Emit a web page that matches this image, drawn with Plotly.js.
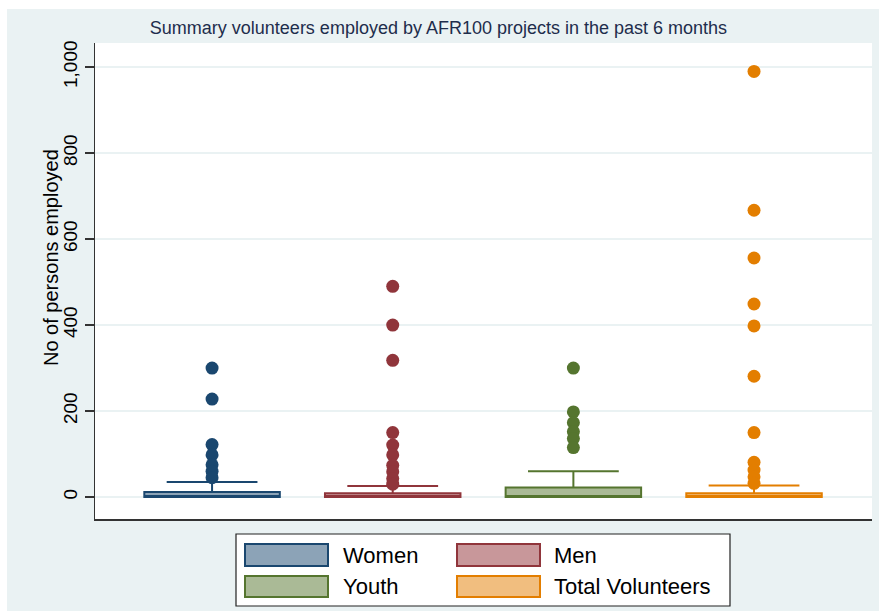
<!DOCTYPE html>
<html>
<head>
<meta charset="utf-8">
<script src="https://cdn.plot.ly/plotly-3.0.1.min.js"></script>
<style>
  html, body { margin:0; padding:0; background:#ffffff; }
  #wrap { position:relative; width:879px; height:611px; background:#ffffff; overflow:hidden; }
  #chart { position:absolute; left:7px; top:9px; width:872px; height:602px; }
</style>
</head>
<body>
<div id="wrap"><div id="chart"></div></div>
<script>
// ---- data ----
const categories = ["Women", "Men", "Youth", "Total Volunteers"];
const q1Values     = [0, 0, 0, 0];
const medianValues = [0, 0, 0, 0];
const q3Values     = [12, 9, 22, 9];
const lowerFence   = [0, 0, 0, 0];
const upperFence   = [35, 26, 60, 27];
const outliersWomen = [300, 228, 122, 98, 75, 60, 45];
const outliersMen   = [490, 400, 318, 150, 121, 98, 74, 59, 43, 30];
const outliersYouth = [300, 198, 173, 152, 136, 115];
const outliersTotal = [990, 667, 556, 449, 398, 281, 150, 81, 63, 47, 32];
const yTickValues = [0, 200, 400, 600, 800, 1000];
const yTickLabels = ["0", "200", "400", "600", "800", "1,000"];

// ---- styles ----
const lineColors = ["#1A476F", "#90353B", "#55752F", "#E37E00"];
const fillColors = ["#8CA3B7", "#C8979A", "#AABA96", "#F1BE7F"];
const outliers = [outliersWomen, outliersMen, outliersYouth, outliersTotal];
const FONT = "Liberation Sans, Arial, Helvetica, sans-serif";

const traces = [];
categories.forEach((c, i) => {
  traces.push({
    type: "box", name: c, x: [i],
    q1: [q1Values[i]], median: [medianValues[i]], q3: [q3Values[i]],
    lowerfence: [lowerFence[i]], upperfence: [upperFence[i]],
    width: 0.75, whiskerwidth: 0.67, boxpoints: false,
    line: { color: lineColors[i], width: 2 },
    fillcolor: fillColors[i], showlegend: false, hoverinfo: "skip"
  });
});
categories.forEach((c, i) => {
  traces.push({
    type: "scatter", mode: "markers", name: c + " outliers",
    x: outliers[i].map(() => i), y: outliers[i],
    marker: { color: lineColors[i], size: 13, line: { width: 0 } },
    showlegend: false, hoverinfo: "skip"
  });
});

// pixel (page) -> paper helpers; plot area in page px: left 95, top 43, width 777, height 476
const PL = 95, PT = 43, PW = 777, PH = 476;
const px = v => (v - PL) / PW;
const py = v => (PT + PH - v) / PH;

const shapes = [];
const annotations = [];
// legend frame
shapes.push({ type: "rect", xref: "paper", yref: "paper", x0: px(236), x1: px(730), y0: py(534), y1: py(606),
  line: { color: "#222222", width: 1.2 }, fillcolor: "#ffffff", layer: "above" });
const legCols = [245, 457], legTextX = [341, 552], legRows = [[544, 566], [576, 597]];
categories.forEach((c, i) => {
  const col = i % 2, row = Math.floor(i / 2);
  shapes.push({ type: "rect", xref: "paper", yref: "paper",
    x0: px(legCols[col]), x1: px(legCols[col] + 83), y0: py(legRows[row][0]), y1: py(legRows[row][1]),
    line: { color: lineColors[i], width: 2 }, fillcolor: fillColors[i], layer: "above" });
  annotations.push({ xref: "paper", yref: "paper", x: px(legTextX[col]), y: py((legRows[row][0] + legRows[row][1]) / 2),
    xanchor: "left", yanchor: "middle", showarrow: false, text: c,
    font: { family: FONT, size: 22, color: "#000000" } });
});
// y-axis title
annotations.push({ xref: "paper", yref: "paper", x: px(51), y: py(258), xanchor: "center", yanchor: "middle",
  textangle: -90, showarrow: false, text: "No of persons employed",
  font: { family: FONT, size: 20, color: "#000000" } });

const layout = {
  width: 872, height: 602,
  margin: { l: 88, r: 7, t: 34, b: 92, pad: 0 },
  paper_bgcolor: "#EAF2F3", plot_bgcolor: "#ffffff",
  title: { text: "Summary volunteers employed by AFR100 projects in the past 6 months",
    x: 0.4948, xref: "container", xanchor: "center", y: 0.9684, yref: "container", yanchor: "middle",
    font: { family: FONT, size: 18, color: "#1E2D4C" } },
  xaxis: { range: [-0.648, 3.653], showticklabels: false, showgrid: false, zeroline: false,
    showline: true, linecolor: "#333333", linewidth: 2, ticks: "", fixedrange: true },
  yaxis: { range: [-51, 1056], tickvals: yTickValues, ticktext: yTickLabels, tickangle: -90,
    ticks: "outside", ticklen: 9, tickwidth: 1.3, tickcolor: "#333333",
    showline: true, linecolor: "#333333", linewidth: 1.5,
    showgrid: true, gridcolor: "#EAF2F3", gridwidth: 2, zeroline: false,
    tickfont: { family: FONT, size: 19, color: "#000000" } },
  shapes: shapes, annotations: annotations,
  showlegend: false, boxmode: "overlay"
};

Plotly.newPlot("chart", traces, layout, { staticPlot: true, displayModeBar: false });
</script>
</body>
</html>
